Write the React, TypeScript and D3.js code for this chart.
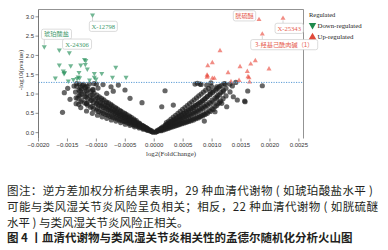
import React from 'react';
import * as d3 from 'd3';

const xTicks = [-0.002, -0.0015, -0.001, -0.0005, 0, 0.0005, 0.001, 0.0015, 0.002, 0.0025];
const yTicks = [0, 0.5, 1, 1.5, 2, 2.5, 3];
const pThreshold = 1.301;
const xTitle = 'log2(FoldChange)';
const yTitle = '-log10(pvalue)';
const legendTitle = 'Regulated';
const legendItems = ['Down-regulated', 'Up-regulated'];

const captionLines = [
  '图注：逆方差加权分析结果表明，29 种血清代谢物 ( 如琥珀酸盐水平 )',
  '可能与类风湿关节炎风险呈负相关；相反，22 种血清代谢物 ( 如胱硫醚',
  '水平 ) 与类风湿关节炎风险正相关。',
];
const figureTitle = '图 4 丨血清代谢物与类风湿关节炎相关性的孟德尔随机化分析火山图';

// non-significant metabolites [log2FC, -log10 p]
const nsLeft: [number, number][] = [
  [-0.00002, 0.01], [-0.00003, 0.02], [-0.00005, 0.03], [-0.00005, 0.05], [-0.00008, 0.05], [-0.00008, 0.07],
  [-0.00011, 0.07], [-0.00011, 0.1], [-0.00014, 0.09], [-0.00014, 0.12], [-0.00015, 0.14],
  [-0.00017, 0.1], [-0.00017, 0.14], [-0.00018, 0.16], [-0.0002, 0.12], [-0.0002, 0.17], [-0.00021, 0.19],
  [-0.00024, 0.14], [-0.00024, 0.2], [-0.00025, 0.23], [-0.00028, 0.16], [-0.00028, 0.21], [-0.00029, 0.26],
  [-0.00032, 0.18], [-0.00032, 0.24], [-0.00033, 0.29], [-0.00031, 0.31],
  [-0.00036, 0.2], [-0.00036, 0.27], [-0.00037, 0.32], [-0.00035, 0.35],
  [-0.0004, 0.22], [-0.0004, 0.3], [-0.00041, 0.35], [-0.00039, 0.39],
  [-0.00044, 0.24], [-0.00044, 0.32], [-0.00045, 0.38], [-0.00043, 0.43],
  [-0.00048, 0.27], [-0.00048, 0.35], [-0.00049, 0.41], [-0.00047, 0.46],
  [-0.00052, 0.29], [-0.00052, 0.38], [-0.00053, 0.44], [-0.00051, 0.5],
  [-0.00056, 0.31], [-0.00056, 0.41], [-0.00057, 0.47], [-0.00055, 0.53],
  [-0.0006, 0.33], [-0.0006, 0.44], [-0.00061, 0.5], [-0.00059, 0.57],
  [-0.00064, 0.35], [-0.00064, 0.47], [-0.00065, 0.54], [-0.00063, 0.61],
  [-0.00068, 0.38], [-0.00068, 0.5], [-0.00069, 0.58], [-0.00067, 0.65],
  [-0.00072, 0.4], [-0.00072, 0.53], [-0.00073, 0.61], [-0.00071, 0.69],
  [-0.00076, 0.42], [-0.00076, 0.56], [-0.00077, 0.65], [-0.00075, 0.73],
  [-0.0008, 0.45], [-0.0008, 0.59], [-0.00081, 0.68], [-0.00079, 0.77],
  [-0.00084, 0.47], [-0.00084, 0.62], [-0.00085, 0.71], [-0.00083, 0.8],
  [-0.00088, 0.5], [-0.00088, 0.65], [-0.00089, 0.75], [-0.00087, 0.85],
  [-0.00092, 0.52], [-0.00092, 0.68], [-0.00093, 0.78], [-0.00091, 0.89],
  [-0.00096, 0.55], [-0.00096, 0.71], [-0.00097, 0.82], [-0.00095, 0.93],
  [-0.001, 0.58], [-0.001, 0.74], [-0.00101, 0.86], [-0.00099, 0.97],
  [-0.00105, 0.62], [-0.00105, 0.78], [-0.00106, 0.9], [-0.00104, 1.02],
  [-0.0011, 0.66], [-0.0011, 0.83], [-0.00111, 0.95], [-0.00109, 1.07],
  [-0.00115, 0.71], [-0.00115, 0.88], [-0.00116, 1.0], [-0.00114, 1.12],
  [-0.0012, 0.77], [-0.0012, 0.94], [-0.00121, 1.06], [-0.00119, 1.17],
  [-0.00125, 0.84], [-0.00125, 1.0], [-0.00126, 1.13], [-0.00124, 1.22],
  [-0.0013, 0.95], [-0.0013, 1.1], [-0.00129, 1.26],
  // fill of the band
  [-0.00012, 0.06], [-0.00012, 0.09], [-0.00013, 0.12], [-0.00019, 0.09], [-0.00019, 0.13], [-0.00019, 0.17],
  [-0.00026, 0.12], [-0.00026, 0.17], [-0.00027, 0.22], [-0.00026, 0.25],
  [-0.00034, 0.15], [-0.00034, 0.21], [-0.00034, 0.27], [-0.00035, 0.32],
  [-0.00042, 0.19], [-0.00042, 0.26], [-0.00043, 0.33], [-0.00042, 0.4],
  [-0.0005, 0.22], [-0.0005, 0.31], [-0.00051, 0.4], [-0.0005, 0.48],
  [-0.00058, 0.26], [-0.00058, 0.36], [-0.00059, 0.45], [-0.00058, 0.55],
  [-0.00066, 0.3], [-0.00066, 0.41], [-0.00067, 0.52], [-0.00066, 0.62],
  [-0.00074, 0.33], [-0.00074, 0.46], [-0.00075, 0.58], [-0.00074, 0.7],
  [-0.00082, 0.37], [-0.00082, 0.51], [-0.00083, 0.64], [-0.00082, 0.77],
  [-0.0009, 0.41], [-0.0009, 0.56], [-0.00091, 0.7], [-0.0009, 0.84],
  [-0.00098, 0.45], [-0.00098, 0.62], [-0.00099, 0.76], [-0.00098, 0.9],
  [-0.00107, 0.5], [-0.00107, 0.68], [-0.00108, 0.84], [-0.00107, 0.98], [-0.00106, 1.12],
  [-0.00117, 0.56], [-0.00117, 0.75], [-0.00118, 0.92], [-0.00117, 1.08], [-0.00116, 1.2],
  [-0.00127, 0.65], [-0.00127, 0.8], [-0.00128, 0.98], [-0.00127, 1.18],
  [-0.00135, 0.75], [-0.00135, 0.9], [-0.00136, 1.05], [-0.00134, 1.2],
  // scattered
  [-0.001554, 1.034], [-0.001386, 1.207], [-0.001455, 0.863], [-0.001305, 0.733], [-0.001585, 0.526],
  [-0.001322, 0.889], [-0.001282, 1.078], [-0.001196, 1.189], [-0.001495, 1.148], [-0.001167, 0.759],
  [-0.000821, 1.018], [-0.000747, 1.189], [-0.00062, 1.233], [-0.000505, 1.104], [-0.000418, 0.889],
  [-0.000211, 0.775], [-0.001058, 1.104], [-0.000971, 1.155], [-0.000885, 1.246], [-0.00134, 1.27],
  [-0.00122, 1.25], [-0.00112, 1.26], [-0.00104, 1.27], [-0.001, 1.26], [-0.000708, 1.075],
];

const nsRight: [number, number][] = [
  [0.00002, 0.01], [0.00003, 0.02], [0.00005, 0.03], [0.00005, 0.05], [0.00008, 0.05], [0.00008, 0.08],
  [0.00011, 0.06], [0.00011, 0.1], [0.00012, 0.12], [0.00014, 0.08], [0.00014, 0.12], [0.00015, 0.15],
  [0.00018, 0.1], [0.00018, 0.15], [0.00019, 0.19],
  [0.00022, 0.12], [0.00022, 0.18], [0.00023, 0.23], [0.00021, 0.26],
  [0.00026, 0.14], [0.00026, 0.21], [0.00027, 0.27], [0.00025, 0.3],
  [0.0003, 0.16], [0.0003, 0.24], [0.00031, 0.3], [0.00029, 0.35],
  [0.00034, 0.18], [0.00034, 0.27], [0.00035, 0.34], [0.00033, 0.4],
  [0.00038, 0.2], [0.00038, 0.3], [0.00039, 0.38], [0.00037, 0.45],
  [0.00042, 0.22], [0.00042, 0.33], [0.00043, 0.42], [0.00041, 0.5],
  [0.00046, 0.24], [0.00046, 0.36], [0.00047, 0.46], [0.00045, 0.55],
  [0.0005, 0.26], [0.0005, 0.39], [0.00051, 0.5], [0.00049, 0.6],
  [0.00054, 0.28], [0.00054, 0.42], [0.00055, 0.54], [0.00053, 0.65],
  [0.00058, 0.3], [0.00058, 0.45], [0.00059, 0.58], [0.00057, 0.7],
  [0.00062, 0.33], [0.00062, 0.48], [0.00063, 0.62], [0.00061, 0.75],
  [0.00066, 0.35], [0.00066, 0.51], [0.00067, 0.66], [0.00065, 0.8],
  [0.0007, 0.37], [0.0007, 0.55], [0.00071, 0.7], [0.00069, 0.85],
  [0.00074, 0.4], [0.00074, 0.58], [0.00075, 0.74], [0.00073, 0.9],
  [0.00078, 0.42], [0.00078, 0.62], [0.00079, 0.78], [0.00077, 0.95],
  [0.00082, 0.45], [0.00082, 0.65], [0.00083, 0.82], [0.00081, 1.0],
  [0.00086, 0.48], [0.00086, 0.69], [0.00087, 0.87], [0.00085, 1.05],
  [0.0009, 0.52], [0.0009, 0.73], [0.00091, 0.92], [0.00089, 1.1],
  [0.00095, 0.57], [0.00095, 0.78], [0.00096, 0.98], [0.00094, 1.15],
  [0.001, 0.62], [0.001, 0.84], [0.00101, 1.04], [0.00099, 1.2],
  [0.00105, 0.68], [0.00105, 0.9], [0.00106, 1.1],
  [0.0011, 0.75], [0.0011, 0.97], [0.00111, 1.16],
  [0.00115, 0.82], [0.00115, 1.04], [0.00116, 1.22],
  // fill of the band
  [0.00012, 0.05], [0.00013, 0.09], [0.00016, 0.07], [0.00017, 0.12], [0.0002, 0.09], [0.0002, 0.14], [0.0002, 0.2],
  [0.00024, 0.11], [0.00024, 0.16], [0.00024, 0.22], [0.00028, 0.13], [0.00028, 0.19], [0.00028, 0.26],
  [0.00032, 0.15], [0.00032, 0.22], [0.00032, 0.3], [0.00036, 0.17], [0.00036, 0.25], [0.00036, 0.34],
  [0.0004, 0.19], [0.0004, 0.28], [0.0004, 0.38], [0.00044, 0.21], [0.00044, 0.31], [0.00044, 0.42],
  [0.00048, 0.23], [0.00048, 0.34], [0.00048, 0.46], [0.00052, 0.25], [0.00052, 0.37], [0.00052, 0.5],
  [0.00056, 0.27], [0.00056, 0.4], [0.00056, 0.54], [0.0006, 0.29], [0.0006, 0.43], [0.0006, 0.58],
  [0.00064, 0.31], [0.00064, 0.46], [0.00064, 0.62], [0.00068, 0.33], [0.00068, 0.49], [0.00068, 0.66],
  [0.00072, 0.36], [0.00072, 0.52], [0.00072, 0.7], [0.00076, 0.38], [0.00076, 0.55], [0.00076, 0.74],
  [0.0008, 0.41], [0.0008, 0.58], [0.0008, 0.78], [0.00084, 0.44], [0.00084, 0.62], [0.00084, 0.83],
  [0.00088, 0.47], [0.00088, 0.66], [0.00088, 0.88], [0.00092, 0.5], [0.00092, 0.7], [0.00092, 0.94],
  [0.00097, 0.55], [0.00097, 0.75], [0.00097, 1.0], [0.00102, 0.6], [0.00102, 0.8], [0.00102, 1.08],
  [0.00108, 0.7], [0.00108, 0.88], [0.00108, 1.14], [0.00113, 0.78], [0.00113, 0.98], [0.00113, 1.2],
  [0.00119, 0.88], [0.00119, 1.06], [0.00124, 0.95], [0.00124, 1.15],
  // scattered
  [0.000187, 1.085], [0.00013, 0.671], [0.00033, 0.715], [0.000705, 1.259], [0.000791, 1.259],
  [0.000907, 1.233], [0.00108, 1.189], [0.00121, 1.27], [0.00131, 1.259], [0.00141, 1.3],
  [0.001436, 0.845], [0.00157, 0.8], [0.001616, 1.078], [0.001868, 1.215], [0.000866, 0.3],
  [0.001167, 0.759], [0.001253, 0.671], [0.00105, 0.541], [0.001367, 0.93], [0.000745, 1.28],
  [0.00081, 1.25], [0.00098, 1.29], [0.00123, 1.26], [0.00135, 1.21], [0.001563, 0.82],
  [0.00131, 1.055], [0.001195, 1.1], [0.00097, 1.055], [0.001085, 0.93],
];

const downPoints: [number, number][] = [
  [-0.001066, 3.047], [-0.0019, 2.225], [-0.001467, 2.07],
  [-0.00164, 2.14], [-0.001205, 1.894], [-0.001183, 1.868], [-0.00164, 1.751], [-0.001443, 1.733],
  [-0.00127, 1.751], [-0.001191, 1.769], [-0.001156, 1.648], [-0.001571, 1.596], [-0.001559, 1.531],
  [-0.00155, 1.557], [-0.0013, 1.562], [-0.001035, 1.536], [-0.000907, 1.536], [-0.000665, 1.694],
  [-0.001709, 1.415], [-0.001485, 1.337], [-0.001398, 1.376], [-0.001334, 1.402], [-0.001314, 1.44],
  [-0.00129, 1.42], [-0.001118, 1.363], [-0.001035, 1.433], [-0.001006, 1.389], [-0.000721, 1.433],
  [-0.000487, 1.433],
];

const upPoints: [number, number][] = [
  [0.001811, 2.93], [0.002226, 2.961], [0.001868, 2.554],
  [0.001137, 2.122], [0.001004, 1.811], [0.000925, 1.733], [0.001747, 1.863], [0.001668, 1.777],
  [0.001483, 1.707], [0.001984, 1.648], [0.001276, 1.552], [0.001609, 1.583], [0.000913, 1.492],
  [0.000913, 1.433], [0.000921, 1.466], [0.001004, 1.407], [0.001039, 1.407], [0.001621, 1.448],
  [0.001638, 1.422], [0.001466, 1.35], [0.001327, 1.319], [0.001647, 1.31],
];

const labelNames = ['琥珀酸盐', 'X-24306', 'X-12798', '胱硫醚', 'X-25343', '3-羟基己酰肉碱（1）'];
const labelPoints: [number, number][] = [
  [-0.0019, 2.225], [-0.001467, 2.07], [-0.001066, 3.047],
  [0.001811, 2.93], [0.002226, 2.961], [0.001868, 2.554],
];
const labelGroups = ['down', 'down', 'down', 'up', 'up', 'up'];

// layout (pixels): box-center offsets and widths
const labelOffsets = [[12.2, -12.5], [7.7, -8.6], [10.8, 11.3], [-14.5, -3.7], [6.2, 10], [21.9, 10.6]];
const labelWidths = [30, 29, 28, 22.4, 28.3, 67];

const W = 388, H = 250;
const PL = 38.5, PR = 303.5, PT = 9.5, PB = 138.5;

const GREEN = '#2e9460';
const RED = '#e8473a';
const GREEN_TXT = '#3f9a6c';
const RED_TXT = '#e6604f';
const SERIF = '"Liberation Serif", "Times New Roman", serif';
const SANS = '"Liberation Sans", Arial, sans-serif';
const CJK = '"Noto Sans CJK SC", sans-serif';

function fmtX(v: number) {
  const s = Math.abs(v).toFixed(4);
  return v < 0 ? '\u2212' + s : s;
}

export default function App() {
  const x = d3.scaleLinear().domain([-0.002, 0.00258]).range([PL, PR]);
  const y = d3.scaleLinear().domain([-0.152, 3.19]).range([PB, PT]);
  const tri = d3.symbol().type(d3.symbolTriangle).size(11)() as string;
  const triLeg = d3.symbol().type(d3.symbolTriangle).size(24)() as string;
  const ns = [...nsLeft, ...nsRight];

  return (
    <svg width={W} height={H} style={{ position: 'absolute', left: 0, top: 0, background: '#fff' }}>
      <rect x={0} y={0} width={W} height={H} fill="#fff" />
      {/* points */}
      <g>
        {ns.map((d, i) => (
          <circle key={i} cx={x(d[0])} cy={y(d[1])} r={2.6} fill="#1e1e1e" fillOpacity={0.68} />
        ))}
      </g>
      <g>
        {downPoints.map((d, i) => (
          <path key={i} d={tri} transform={`translate(${x(d[0])},${y(d[1])}) rotate(180)`} fill={GREEN} fillOpacity={0.68} />
        ))}
        {upPoints.map((d, i) => (
          <path key={i} d={tri} transform={`translate(${x(d[0])},${y(d[1])})`} fill={RED} fillOpacity={0.62} />
        ))}
      </g>
      {/* threshold */}
      <line x1={PL} x2={PR} y1={y(pThreshold)} y2={y(pThreshold)} stroke="#5b9bd5" strokeWidth={1} strokeDasharray="1.2,1.3" />
      {/* frame */}
      <line x1={PL} x2={PR} y1={PT} y2={PT} stroke="#777" strokeWidth={0.8} />
      <line x1={PR} x2={PR} y1={PT} y2={PB} stroke="#777" strokeWidth={0.8} />
      <line x1={PL} x2={PL} y1={PT} y2={PB} stroke="#555" strokeWidth={0.8} />
      {/* y axis */}
      {yTicks.map((t) => (
        <g key={t}>
          <line x1={PL - 3} x2={PL} y1={y(t)} y2={y(t)} stroke="#444" strokeWidth={0.6} />
          <text x={PL - 4.5} y={y(t)} dy="0.35em" textAnchor="end" fontSize={6} fontFamily={SANS} fill="#333">
            {t.toFixed(1)}
          </text>
        </g>
      ))}
      {/* x axis */}
      {xTicks.map((t) => (
        <g key={t}>
          <line x1={x(t)} x2={x(t)} y1={PB} y2={PB + 3} stroke="#444" strokeWidth={0.6} />
          <text x={x(t)} y={PB + 8.2} textAnchor="middle" fontSize={6} fontFamily={SANS} fill="#333">
            {fmtX(t)}
          </text>
        </g>
      ))}
      <text x={(PL + PR) / 2} y={155.5} textAnchor="middle" fontSize={6.8} fontFamily={SERIF} fill="#333">{xTitle}</text>
      <text transform={`translate(22.5,${(PT + PB) / 2 - 4}) rotate(-90)`} textAnchor="middle" fontSize={6.8} fontFamily={SERIF} fill="#333">{yTitle}</text>
      {/* labels */}
      {labelNames.map((name, i) => {
        const px = x(labelPoints[i][0]);
        const py = y(labelPoints[i][1]);
        const cx = px + labelOffsets[i][0];
        const cy = py + labelOffsets[i][1];
        const w = labelWidths[i];
        const h = 10.2;
        const isCJK = /[\u4e00-\u9fff]/.test(name);
        const col = labelGroups[i] === 'down' ? GREEN_TXT : RED_TXT;
        const ex = Math.max(cx - w / 2, Math.min(px, cx + w / 2));
        const ey = Math.max(cy - h / 2, Math.min(py, cy + h / 2));
        const dist = Math.hypot(ex - px, ey - py);
        return (
          <g key={name}>
            {dist > 4 && (
              <line x1={px} y1={py + (ey > py ? 2 : -2)} x2={ex} y2={ey} stroke="#aaa" strokeWidth={0.5} />
            )}
            <rect x={cx - w / 2} y={cy - h / 2} width={w} height={h} rx={2} fill="#fff" stroke="#c4c4c4" strokeWidth={0.6} />
            <text x={cx} y={cy} dy="0.36em" textAnchor="middle" fontSize={isCJK ? 6.2 : 6.6} fontFamily={isCJK ? CJK : SERIF} fill={col}>
              {name}
            </text>
          </g>
        );
      })}
      {/* legend */}
      <text x={309} y={17} fontSize={6.5} fontFamily={SERIF} fill="#222">{legendTitle}</text>
      <path d={triLeg} transform="translate(312.5,25.2) rotate(180)" fill="#1f8a4c" />
      <text x={317.5} y={28} fontSize={6.8} fontFamily={SERIF} fill="#222">{legendItems[0]}</text>
      <path d={triLeg} transform="translate(312.5,37)" fill="#e04a3a" />
      <text x={317.5} y={39.2} fontSize={6.8} fontFamily={SERIF} fill="#222">{legendItems[1]}</text>
      {/* caption */}
      <text x={7} y={195.3} fontSize={11.5} fontFamily={CJK} fill="#231f20" textLength={366} lengthAdjust="spacing">{captionLines[0]}</text>
      <text x={7} y={211} fontSize={11.5} fontFamily={CJK} fill="#231f20" textLength={371} lengthAdjust="spacing">{captionLines[1]}</text>
      <text x={7} y={226.7} fontSize={11.5} fontFamily={CJK} fill="#231f20">{captionLines[2]}</text>
      <text x={7} y={242.3} fontSize={11.5} fontFamily={CJK} fontWeight="bold" fill="#231f20">{figureTitle}</text>
    </svg>
  );
}
